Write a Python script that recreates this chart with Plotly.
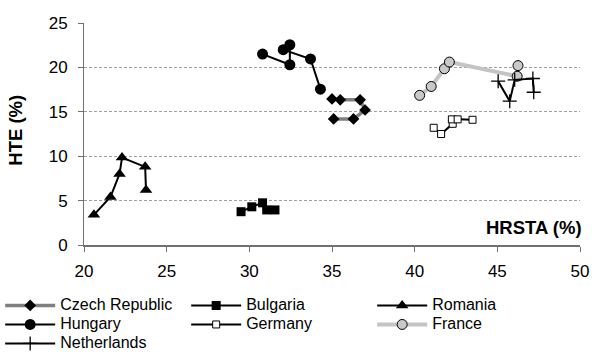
import plotly.graph_objects as go

# ---- data ----
czech_x = [35.0, 35.5, 36.7, 37.0, 36.3, 35.1]
czech_y = [16.45, 16.35, 16.35, 15.2, 14.2, 14.2]

bulgaria_x = [29.5, 30.15, 30.8, 31.05, 31.55]
bulgaria_y = [3.75, 4.3, 4.75, 3.95, 3.95]

romania_x = [20.6, 21.6, 22.15, 22.3, 23.7, 23.75]
romania_y = [3.4, 5.4, 8.0, 9.85, 8.8, 6.2]

hungary_x = [30.8, 32.45, 32.45, 32.05, 33.7, 34.3]
hungary_y = [21.5, 20.3, 22.55, 22.0, 20.95, 17.55]

germany_x = [41.15, 41.6, 42.3, 42.25, 42.6, 43.5]
germany_y = [13.2, 12.5, 13.65, 14.15, 14.15, 14.1]

france_x = [40.3, 41.0, 41.8, 42.1, 46.2, 46.25]
france_y = [16.85, 17.85, 19.85, 20.6, 19.0, 20.2]

netherlands_x = [45.05, 45.75, 46.05, 47.15, 47.2]
netherlands_y = [18.45, 16.2, 18.6, 18.75, 17.2]

x_title = "HRSTA (%)"
y_title = "HTE (%)"

FONT = "Liberation Sans, Arial, sans-serif"
LEG_SPAN = "<span style='font-size:16px'>{}</span>"

fig = go.Figure()

fig.add_trace(go.Scatter(
    x=czech_x, y=czech_y, name=LEG_SPAN.format("Czech Republic"), mode="lines+markers",
    line=dict(color="#808080", width=3.5),
    marker=dict(symbol="diamond", size=9, color="black")))
fig.add_trace(go.Scatter(
    x=bulgaria_x, y=bulgaria_y, name=LEG_SPAN.format("Bulgaria"), mode="lines+markers",
    line=dict(color="black", width=2),
    marker=dict(symbol="square", size=9, color="black")))
fig.add_trace(go.Scatter(
    x=romania_x, y=romania_y, name=LEG_SPAN.format("Romania"), mode="lines+markers",
    line=dict(color="black", width=2),
    marker=dict(symbol="triangle-up", size=11, color="black")))
fig.add_trace(go.Scatter(
    x=hungary_x, y=hungary_y, name=LEG_SPAN.format("Hungary"), mode="lines+markers",
    line=dict(color="black", width=2),
    marker=dict(symbol="circle", size=11, color="black")))
fig.add_trace(go.Scatter(
    x=germany_x, y=germany_y, name=LEG_SPAN.format("Germany"), mode="lines+markers",
    line=dict(color="black", width=2),
    marker=dict(symbol="square", size=7, color="white",
                line=dict(color="black", width=1))))
fig.add_trace(go.Scatter(
    x=france_x, y=france_y, name=LEG_SPAN.format("France"), mode="lines+markers",
    line=dict(color="#c4c4c4", width=4),
    marker=dict(symbol="circle", size=10, color="#c8c8c8",
                line=dict(color="black", width=1))))
fig.add_trace(go.Scatter(
    x=netherlands_x, y=netherlands_y, name=LEG_SPAN.format("Netherlands"), mode="lines+markers",
    line=dict(color="black", width=2),
    marker=dict(symbol="cross-thin", size=10, color="black",
                line=dict(color="black", width=1.3))))

fig.update_layout(
    width=592, height=361,
    margin=dict(l=84, r=12, t=23, b=116, autoexpand=False),
    paper_bgcolor="white", plot_bgcolor="white",
    font=dict(family=FONT, size=16, color="black"),
    showlegend=True,
    legend=dict(
        orientation="h", x=-0.169, xanchor="left", y=-0.207, yanchor="top",
        entrywidth=121, entrywidthmode="pixels",
        font=dict(family=FONT, size=12, color="black"),
        itemwidth=50, tracegroupgap=0, bgcolor="rgba(0,0,0,0)"),
    xaxis=dict(
        range=[20, 50], dtick=5, tick0=20,
        showgrid=False, zeroline=False,
        showline=True, linecolor="#707070", linewidth=2,
        ticks="outside", ticklen=5, tickcolor="#707070", tickwidth=1,
        ticklabelstandoff=5,
        tickfont=dict(family=FONT, size=17, color="black")),
    yaxis=dict(
        range=[0, 25], dtick=5, tick0=0,
        showgrid=True, gridcolor="#a0a0a0", gridwidth=1, griddash="3px,2px",
        zeroline=False,
        showline=True, linecolor="#707070", linewidth=1,
        ticks="outside", ticklen=5, tickcolor="#707070", tickwidth=1,
        ticklabelstandoff=7,
        tickfont=dict(family=FONT, size=17, color="black")),
    annotations=[
        dict(text="<b>" + x_title + "</b>", xref="paper", yref="paper",
             x=1, y=0.077, xanchor="right", yanchor="middle", xshift=4,
             showarrow=False, font=dict(family=FONT, size=18.5, color="black")),
        dict(text="<b>" + y_title + "</b>", xref="paper", yref="paper",
             x=-0.137, y=0.515, xanchor="center", yanchor="middle",
             textangle=-90, showarrow=False,
             font=dict(family=FONT, size=18.5, color="black")),
    ],
)

fig.write_html("out.html")
